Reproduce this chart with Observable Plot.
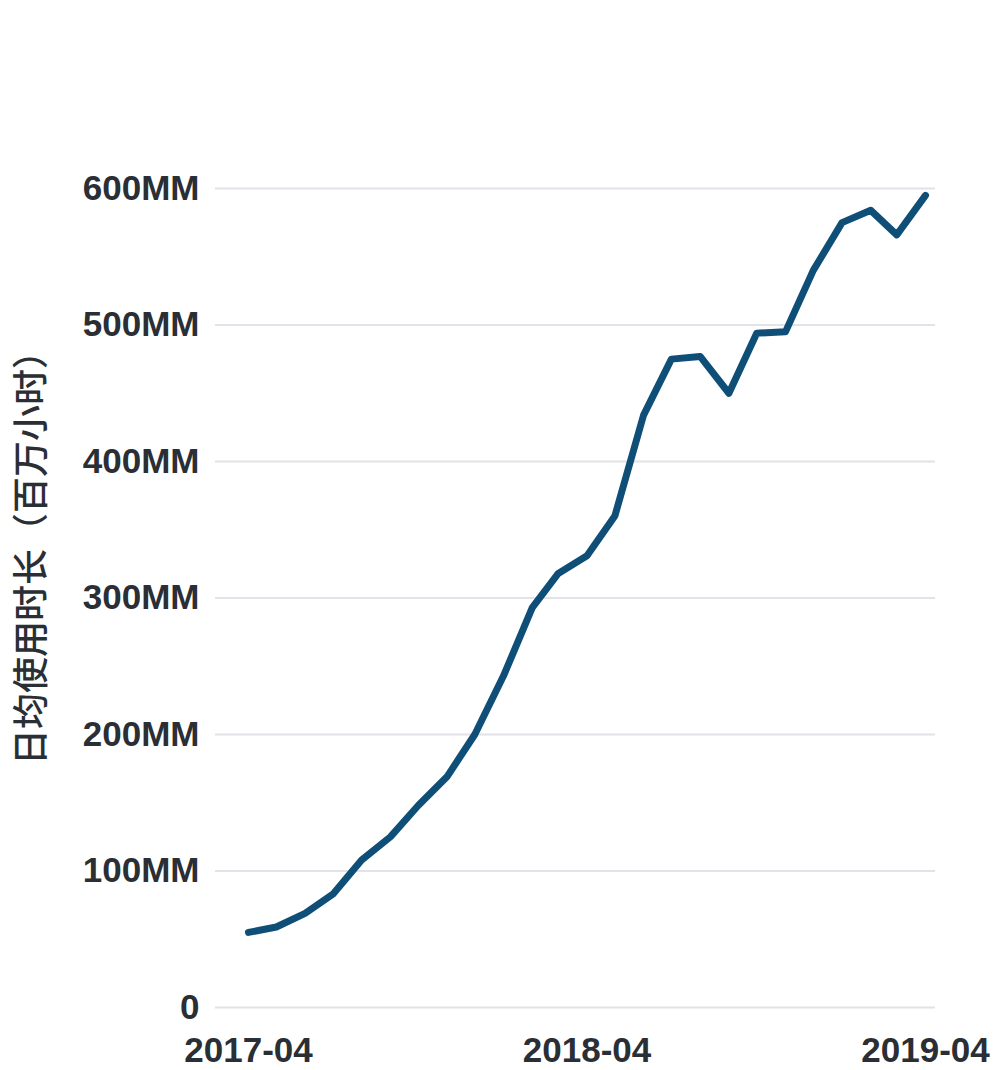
<!DOCTYPE html>
<html>
<head>
<meta charset="utf-8">
<script src="https://cdn.jsdelivr.net/npm/d3@7"></script>
<script src="https://cdn.jsdelivr.net/npm/@observablehq/plot@0.6"></script>
<style>
  html, body { margin: 0; padding: 0; background: #fff; }
</style>
</head>
<body>
<div id="chart"></div>
<script>
const months = ["2017-04","2017-05","2017-06","2017-07","2017-08","2017-09","2017-10","2017-11","2017-12",
  "2018-01","2018-02","2018-03","2018-04","2018-05","2018-06","2018-07","2018-08","2018-09","2018-10","2018-11","2018-12",
  "2019-01","2019-02","2019-03","2019-04"];
const hours = [55, 59, 69, 83, 108, 125, 148, 169, 200,
  243, 293, 318, 331, 360, 434, 475, 477, 450, 494, 495, 540,
  575, 584, 566, 595];
const yTicks = [0, 100, 200, 300, 400, 500, 600];
const xTicks = ["2017-04", "2018-04", "2019-04"];
const yLabel = "日均使用时长（百万小时）";

const parse = d3.utcParse("%Y-%m");
const data = months.map((m, i) => ({date: parse(m), value: hours[i]}));

const chart = Plot.plot({
  width: 995,
  height: 1070,
  marginTop: 188,
  marginBottom: 63,
  marginLeft: 215,
  marginRight: 60,
  insetLeft: 33,
  insetRight: 10,
  style: {background: "#fff", fontFamily: "'Liberation Sans', Arial, sans-serif"},
  x: {type: "utc", domain: [parse(xTicks[0]), parse(xTicks[2])]},
  y: {domain: [0, 600]},
  marks: [
    Plot.ruleY(yTicks, {stroke: "#e2e2e8", strokeWidth: 2}),
    Plot.axisY({
      ticks: yTicks,
      tickSize: 0,
      tickPadding: 16,
      tickFormat: d => d === 0 ? "0" : d + "MM",
      fontSize: 35,
      fontWeight: "bold",
      fill: "#2a2e35",
      label: null
    }),
    Plot.axisX({
      ticks: xTicks.map(parse),
      tickSize: 0,
      tickPadding: 30,
      tickFormat: d3.utcFormat("%Y-%m"),
      fontSize: 35,
      fontWeight: "bold",
      fill: "#2a2e35",
      label: null
    }),
    Plot.text([yLabel], {
      frameAnchor: "left",
      textAnchor: "middle",
      rotate: -90,
      dx: -183,
      dy: -49,
      fontSize: 36,
      fontWeight: 500,
      fill: "#2a2e35",
      fontFamily: "'Noto Sans CJK SC', sans-serif"
    }),
    Plot.line(data, {
      x: "date",
      y: "value",
      stroke: "#0f4f77",
      strokeWidth: 7,
      strokeLinejoin: "round",
      strokeLinecap: "round"
    })
  ]
});
document.getElementById("chart").appendChild(chart);
</script>
</body>
</html>
